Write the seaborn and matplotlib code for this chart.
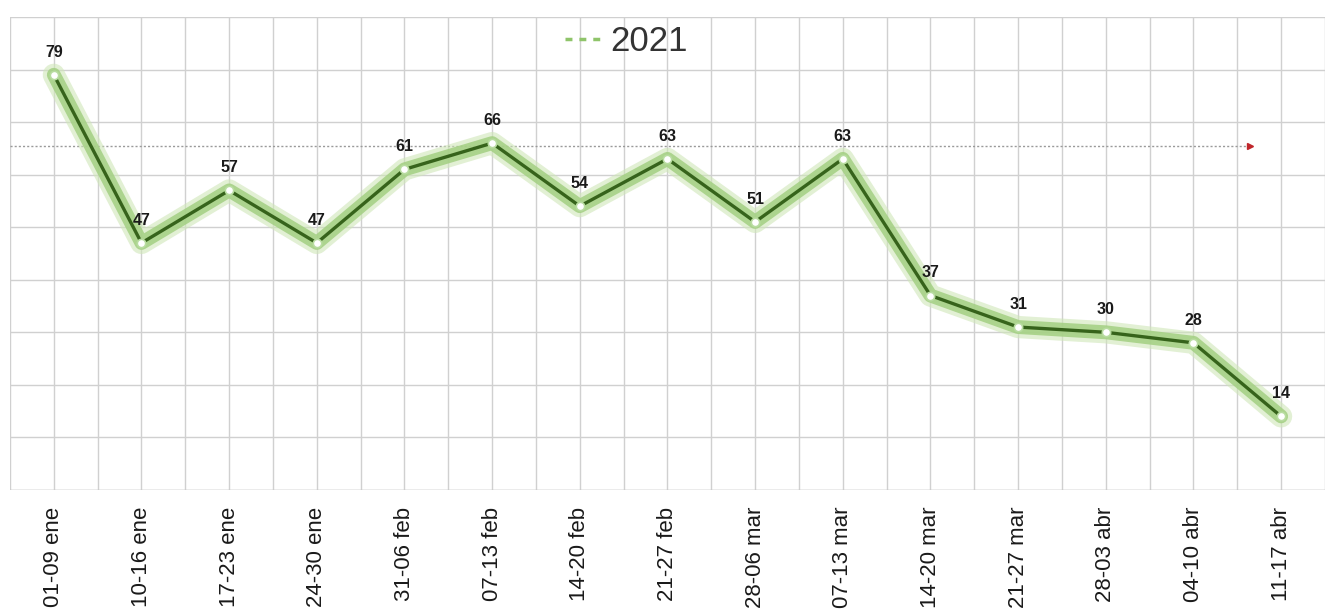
import numpy as np
import pandas as pd
import seaborn as sns
import matplotlib.pyplot as plt
from matplotlib.lines import Line2D

semanas = ['01-09 ene', '10-16 ene', '17-23 ene', '24-30 ene', '31-06 feb',
           '07-13 feb', '14-20 feb', '21-27 feb', '28-06 mar', '07-13 mar',
           '14-20 mar', '21-27 mar', '28-03 abr', '04-10 abr', '11-17 abr']
casos = [79, 47, 57, 47, 61, 66, 54, 63, 51, 63, 37, 31, 30, 28, 14]
serie = '2021'
nivel_ref = 65.5

dados = pd.DataFrame({'Semana': semanas, 'Casos': casos})

sns.set_style('white')
plt.rcParams['font.family'] = ['Liberation Sans', 'DejaVu Sans']

fig = plt.figure(figsize=(13.32, 6.15), dpi=100)
ax = fig.add_axes([0.0075, 0.2033, 0.9872, 0.7691])

# resplandor verde
sns.lineplot(data=dados, x='Semana', y='Casos', sort=False, color='#cfe6b8',
             linewidth=16, alpha=0.6, ax=ax, solid_capstyle='round', zorder=3)
sns.lineplot(data=dados, x='Semana', y='Casos', sort=False, color='#a3cf82',
             linewidth=10, alpha=0.85, ax=ax, solid_capstyle='round', zorder=4)
sns.lineplot(data=dados, x='Semana', y='Casos', sort=False, color='#36631b',
             linewidth=2.4, ax=ax, marker='o', markersize=6,
             markerfacecolor='white', markeredgecolor='#b8dca0',
             markeredgewidth=1.2, zorder=5)

n = len(semanas)
ax.set_xlim(-0.5, n - 0.5)
ax.set_ylim(0, 90)

# linea de referencia punteada con flecha roja
ax.hlines(nivel_ref, -0.5, n - 1.35, colors='#9a9a9a', linestyles=(0, (1.5, 1.5)),
          linewidth=1, zorder=2)
ax.plot([n - 1.35], [nivel_ref], marker='>', color='#c0262b', markersize=5, zorder=2)

for i, v in enumerate(casos):
    ax.annotate(str(v), (i, v), xytext=(0, 11), textcoords='offset points',
                ha='center', va='bottom', fontsize=11.5, fontweight='bold',
                color='#1a1a1a', zorder=6)

# cuadricula
ax.set_yticks(np.arange(0, 91, 10))
ax.set_xticks(np.arange(n))
ax.set_xticks(np.arange(-0.5, n, 1), minor=True)
ax.grid(which='major', axis='both', color='#d0d0d0', linewidth=1)
ax.grid(which='minor', axis='x', color='#d0d0d0', linewidth=1)
ax.set_yticklabels([])
ax.set_xticklabels(semanas, rotation=90, fontsize=16, color='#1a1a1a')
ax.tick_params(axis='x', which='major', length=0, pad=12)
ax.tick_params(axis='x', which='minor', length=8, color='#d0d0d0')
ax.tick_params(axis='y', length=0)
ax.set_xlabel('')
ax.set_ylabel('')
for s in ax.spines.values():
    s.set_visible(False)
ax.axhline(0, color='#c4c4c4', linewidth=1)

handle = Line2D([0], [0], color='#8fc46a', linestyle=(0, (2, 2)), linewidth=2.5)
leg = fig.legend([handle], [serie], loc='upper center', bbox_to_anchor=(0.47, 1.01),
                 frameon=False, fontsize=25, handlelength=1.2, handletextpad=0.1)
for t in leg.get_texts():
    t.set_color('#333333')

fig.savefig('out.png', dpi=100)
